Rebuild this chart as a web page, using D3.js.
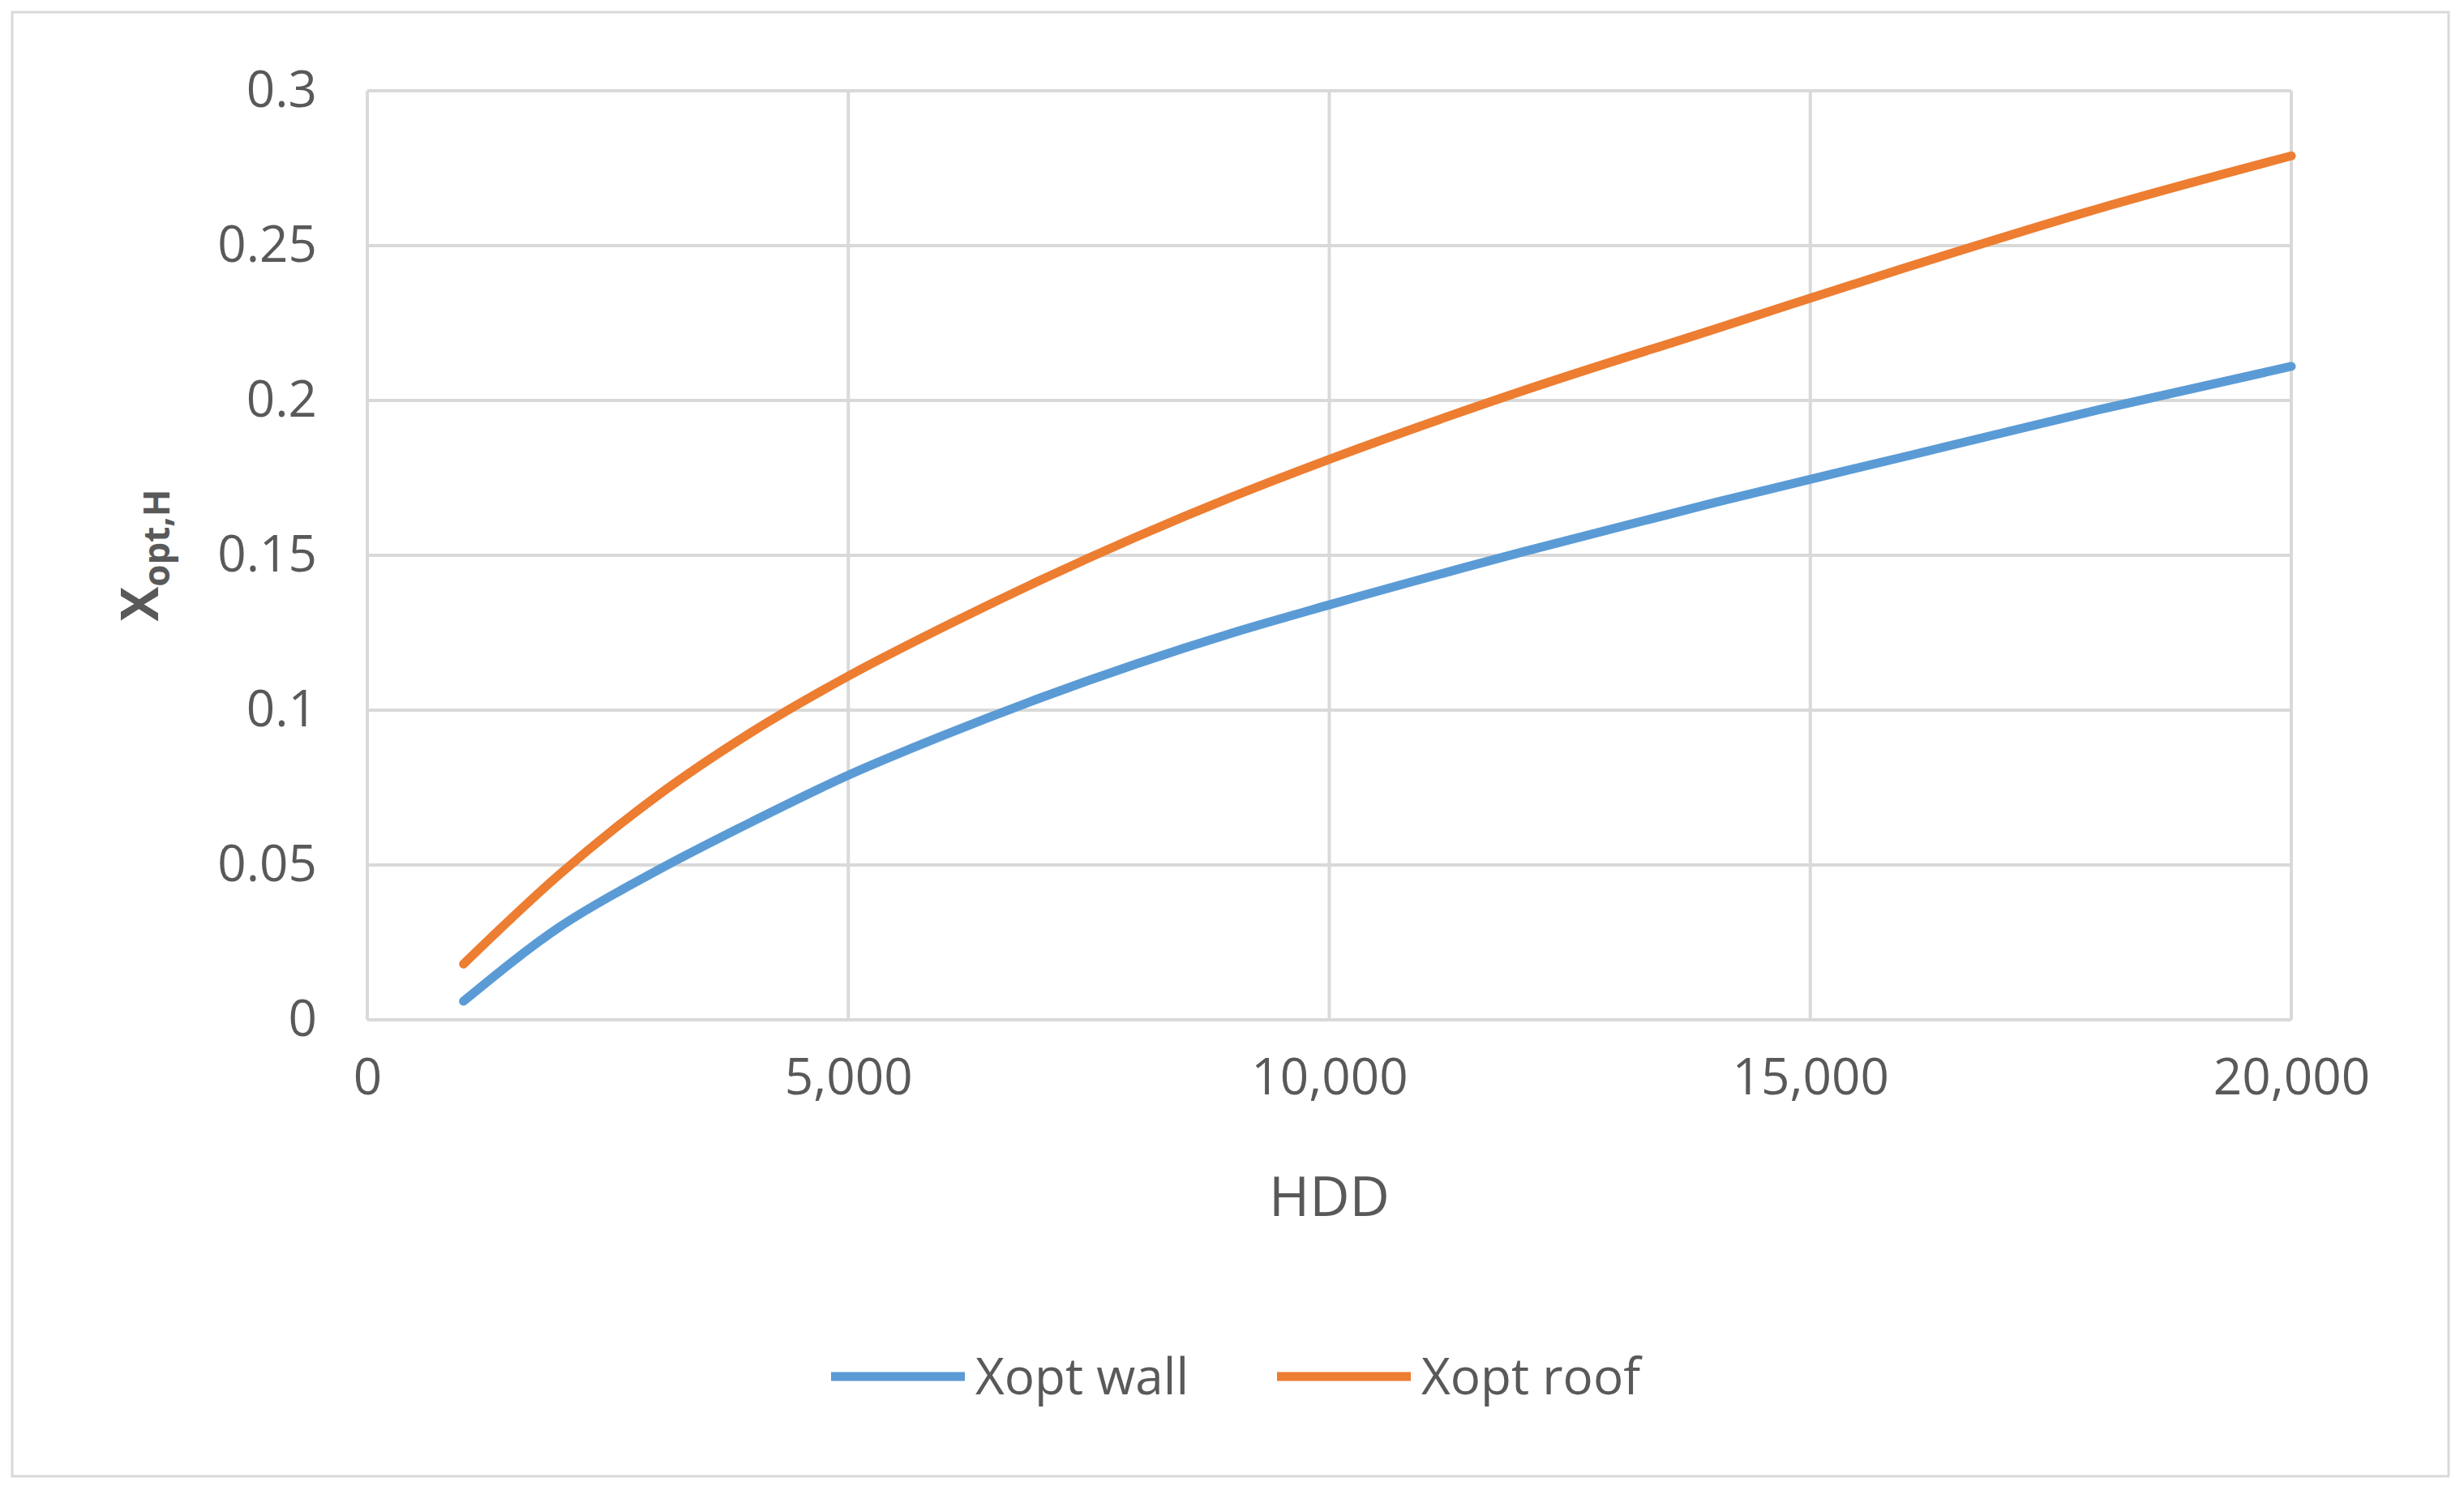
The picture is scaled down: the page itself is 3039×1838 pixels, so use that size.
<!DOCTYPE html>
<html><head><meta charset="utf-8">
<script src="https://cdnjs.cloudflare.com/ajax/libs/d3/7.8.5/d3.min.js"></script>
<style>body{margin:0;background:#fff}</style></head>
<body><svg id="c" width="3039" height="1838"></svg>
<script>
const hdd = [1000,2000,3000,4000,5000,6000,7000,8000,9000,10000,12000,14000,16000,18000,20000];
const wall = [0.006,0.030,0.048,0.064,0.079,0.092,0.104,0.115,0.125,0.134,0.151,0.167,0.182,0.197,0.211];
const roof = [0.018,0.047,0.072,0.093,0.111,0.127,0.142,0.156,0.169,0.181,0.203,0.223,0.243,0.262,0.279];
const xTicks = [0,5000,10000,15000,20000];
const yTicks = [0,0.05,0.1,0.15,0.2,0.25,0.3];
const seriesNames = ["Xopt wall","Xopt roof"];
const colors = ["#5b9bd5","#ed7d31"];

const svg = d3.select("#c");
const font = "'Open Sans', Calibri, sans-serif";
svg.append("rect").attr("x",15).attr("y",15).attr("width",3005).attr("height",1806)
  .attr("fill","#fff").attr("stroke","#d9d9d9").attr("stroke-width",3);
const x = d3.scaleLinear().domain([0,20000]).range([453,2826]);
const y = d3.scaleLinear().domain([0,0.3]).range([1258,112]);
const g = svg.append("g");
xTicks.forEach(t=>g.append("line").attr("x1",x(t)).attr("x2",x(t)).attr("y1",y(0)).attr("y2",y(0.3)).attr("stroke","#d9d9d9").attr("stroke-width",4));
yTicks.forEach(t=>g.append("line").attr("x1",x(0)).attr("x2",x(20000)).attr("y1",y(t)).attr("y2",y(t)).attr("stroke","#d9d9d9").attr("stroke-width",4));
const xa = svg.append("g").attr("transform",`translate(0,${y(0)})`)
  .call(d3.axisBottom(x).tickValues(xTicks).tickFormat(d3.format(",")).tickSize(0).tickPadding(48));
xa.select(".domain").remove();
xa.selectAll("text").attr("font-family",font).attr("font-size",62).attr("fill","#595959");
const ya = svg.append("g").attr("transform",`translate(${x(0)},0)`)
  .call(d3.axisLeft(y).tickValues(yTicks).tickFormat(d=>String(+d.toFixed(2))).tickSize(0).tickPadding(62));
ya.select(".domain").remove();
ya.selectAll("text").attr("font-family",font).attr("font-size",62).attr("fill","#595959");
svg.append("text").attr("x",(x(0)+x(20000))/2).attr("y",1500).attr("text-anchor","middle")
  .attr("font-family",font).attr("font-size",68).attr("fill","#595959").text("HDD");
const yt = svg.append("text").attr("transform",`translate(195,${y(0.15)}) rotate(-90)`).attr("text-anchor","middle")
  .attr("font-family",font).attr("font-weight","bold").attr("fill","#595959").attr("font-size",64);
yt.append("tspan").text("X");
yt.append("tspan").attr("font-size",44).attr("dy",14).text("opt,H");
const line = d3.line().x((d,i)=>x(hdd[i])).y(d=>y(d)).curve(d3.curveMonotoneX);
[wall,roof].forEach((s,i)=>svg.append("path").attr("d",line(s)).attr("fill","none")
  .attr("stroke",colors[i]).attr("stroke-width",11).attr("stroke-linecap","round"));
const lx=[1025,1575];
seriesNames.forEach((n,i)=>{
  svg.append("line").attr("x1",lx[i]).attr("x2",lx[i]+165).attr("y1",1698).attr("y2",1698)
    .attr("stroke",colors[i]).attr("stroke-width",11);
  svg.append("text").attr("x",lx[i]+178).attr("y",1720).attr("font-family",font).attr("font-size",62)
    .attr("fill","#595959").text(n);
});
</script></body></html>
